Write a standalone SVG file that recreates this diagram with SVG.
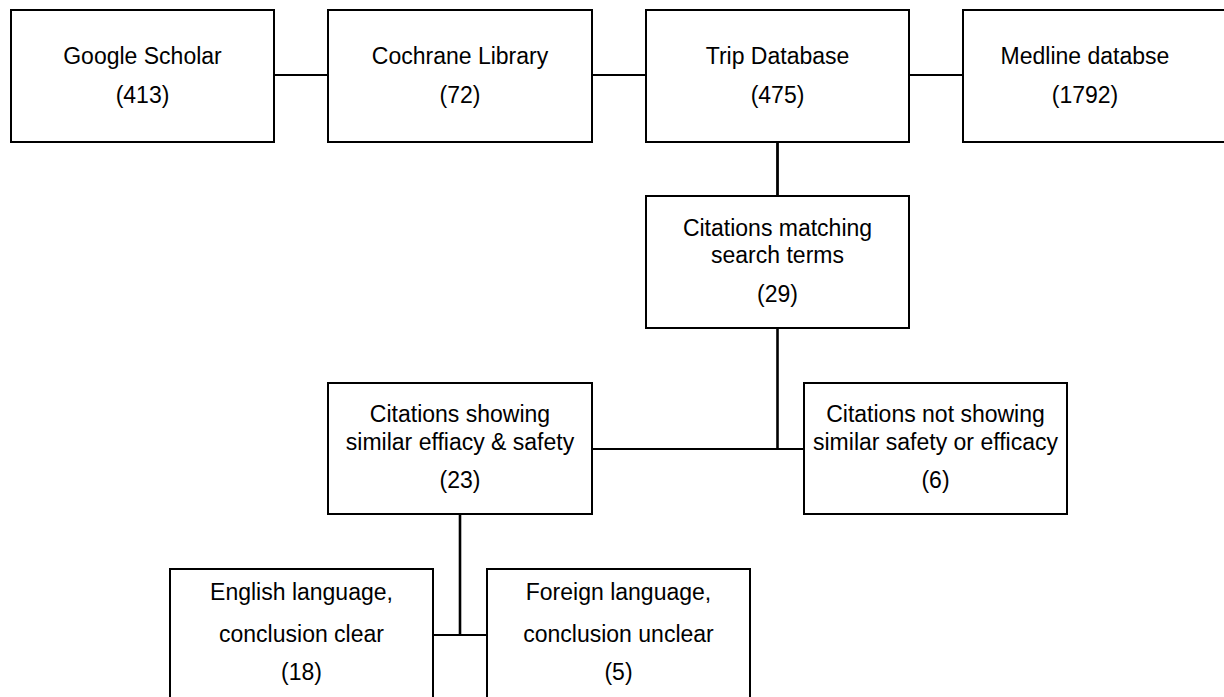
<svg xmlns="http://www.w3.org/2000/svg" width="1224" height="697" viewBox="0 0 1224 697">
<style>
  .box { fill: #fff; stroke: #000; stroke-width: 2; }
  .t { font-family: "Liberation Sans", Arial, sans-serif; font-size: 23px; fill: #000; text-anchor: middle; }
  .c { stroke: #000; stroke-width: 2.2; fill: none; }
</style>
<rect width="1224" height="697" fill="#fff"/>
<g id="connectors">
  <line class="c" x1="274" y1="75" x2="328" y2="75"/>
  <line class="c" x1="592" y1="75" x2="646" y2="75"/>
  <line class="c" x1="909" y1="75" x2="963" y2="75"/>
  <line class="c" x1="777.5" y1="142" x2="777.5" y2="196" style="stroke-width:2.8"/>
  <line class="c" x1="777.5" y1="328" x2="777.5" y2="449" style="stroke-width:2.6"/>
  <line class="c" x1="592" y1="449" x2="804" y2="449"/>
  <line class="c" x1="460" y1="515" x2="460" y2="635" style="stroke-width:2.6"/>
  <line class="c" x1="433" y1="635" x2="487" y2="635"/>
</g>
<g id="google-scholar">
  <rect class="box" x="11" y="10" width="263" height="132"/>
  <text class="t" x="142.5" y="64">Google Scholar</text>
  <text class="t" x="142.5" y="103">(413)</text>
</g>
<g id="cochrane-library">
  <rect class="box" x="328" y="10" width="264" height="132"/>
  <text class="t" x="460" y="64">Cochrane Library</text>
  <text class="t" x="460" y="103">(72)</text>
</g>
<g id="trip-database">
  <rect class="box" x="646" y="10" width="263" height="132"/>
  <text class="t" x="777.5" y="64">Trip Database</text>
  <text class="t" x="777.5" y="103">(475)</text>
</g>
<g id="medline-database">
  <rect class="box" x="963" y="10" width="264" height="132"/>
  <text class="t" x="1085" y="64">Medline databse</text>
  <text class="t" x="1085" y="103">(1792)</text>
</g>
<g id="citations-matching">
  <rect class="box" x="646" y="196" width="263" height="132"/>
  <text class="t" x="777.5" y="236">Citations matching</text>
  <text class="t" x="777.5" y="263">search terms</text>
  <text class="t" x="777.5" y="302">(29)</text>
</g>
<g id="citations-showing">
  <rect class="box" x="328" y="383" width="264" height="131"/>
  <text class="t" x="460" y="422">Citations showing</text>
  <text class="t" x="460" y="450">similar effiacy &amp; safety</text>
  <text class="t" x="460" y="488">(23)</text>
</g>
<g id="citations-not-showing">
  <rect class="box" x="804" y="383" width="263" height="131"/>
  <text class="t" x="935.5" y="422">Citations not showing</text>
  <text class="t" x="935.5" y="450">similar safety or efficacy</text>
  <text class="t" x="935.5" y="488">(6)</text>
</g>
<g id="english-language">
  <rect class="box" x="170" y="569" width="263" height="140"/>
  <text class="t" x="301.5" y="600">English language,</text>
  <text class="t" x="301.5" y="642">conclusion clear</text>
  <text class="t" x="301.5" y="680">(18)</text>
</g>
<g id="foreign-language">
  <rect class="box" x="487" y="569" width="263" height="140"/>
  <text class="t" x="618.5" y="600">Foreign language,</text>
  <text class="t" x="618.5" y="642">conclusion unclear</text>
  <text class="t" x="618.5" y="680">(5)</text>
</g>
</svg>
